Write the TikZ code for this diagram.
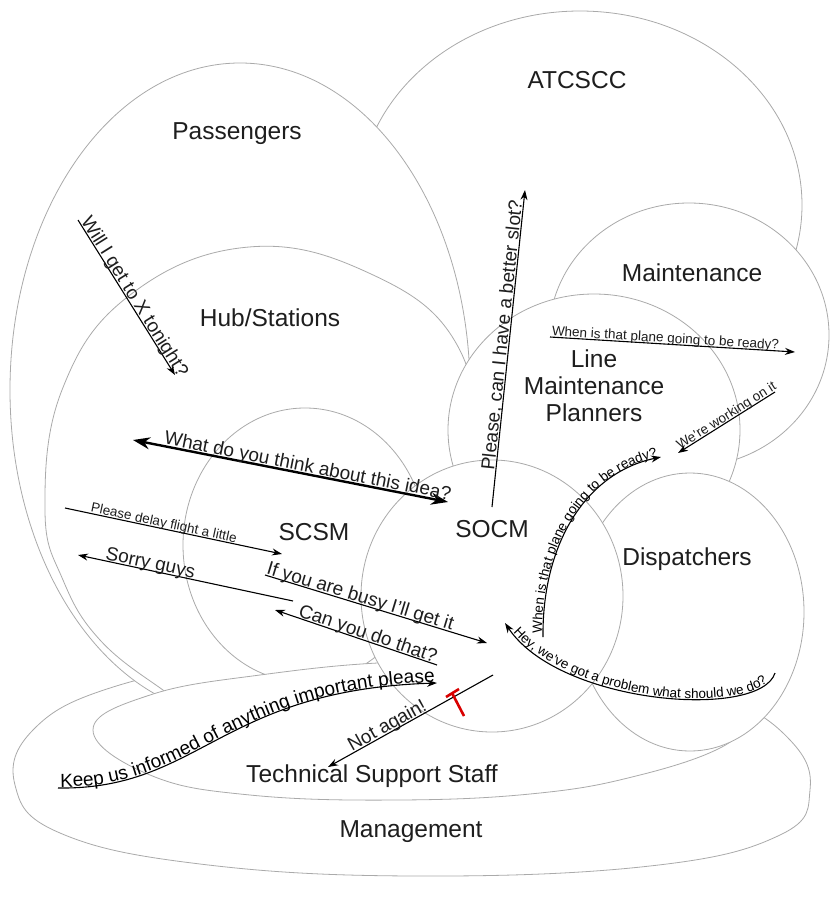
\documentclass[tikz,border=0pt]{standalone}
\usepackage{fontspec}
\setmainfont{Liberation Sans}
\usetikzlibrary{arrows.meta,decorations.text}
\definecolor{edgegray}{RGB}{170,170,170}
\definecolor{txt}{RGB}{30,30,30}
\tikzset{
  zone/.style={draw=edgegray, line width=0.8pt, fill=white},
  lab/.style={font=\fontsize{24.5}{27}\selectfont, text=txt, inner sep=0pt, align=center},
  msg/.style={draw=black, line width=1.1pt},
  msgbig/.style={font=\fontsize{19}{21}\selectfont},
  msgsmall/.style={font=\fontsize{13.5}{15}\selectfont},
  say/.style={sloped, above=1pt, inner sep=0pt, text depth=0pt, text=txt},
  arrowend/.style={-{Stealth[length=10pt,width=7pt]}},
  arrowstart/.style={{Stealth[length=10pt,width=7pt]}-},
  arrowboth/.style={{Stealth[length=17pt,width=12pt]}-{Stealth[length=17pt,width=12pt]}},
  bolt/.style={draw=red!85!black, line width=2.6pt},
}
\begin{document}
\begin{tikzpicture}[x=1pt,y=-1pt]
\useasboundingbox (0,0) rectangle (832,899);
% ---- zones (back to front) ----
\path[zone] (580,205) ellipse [x radius=222pt, y radius=194pt];
\path[zone] plot[smooth cycle, tension=0.7] coordinates {(110,688) (250,660) (420,648) (600,660) (720,695) (790,740) (810,790) (780,835) (650,866) (414,876) (200,864) (60,833) (15,785) (33,730)};
\path[zone] (240,390) ellipse [x radius=230pt, y radius=327pt];
\path[zone] plot[smooth cycle, tension=0.7] coordinates {(249,247) (371,274) (456,343) (472,450) (440,580) (330,700) (200,712) (163,690) (100,640) (63,580) (45,510) (62,390) (130,295)};
\path[zone] (305,545) ellipse [x radius=122pt, y radius=137pt];
\path[zone] (689,335) ellipse [x radius=140pt, y radius=132pt];
\path[zone] (594,430) ellipse [x radius=146pt, y radius=136pt];
\path[zone] plot[smooth cycle, tension=0.7] coordinates {(93,730) (150,695) (260,675) (400,662) (540,665) (650,688) (712,708) (736,726) (720,748) (640,775) (540,793) (400,800) (250,795) (150,775)};
\path[zone] (690,612) ellipse [x radius=114pt, y radius=139pt];
\path[zone] (492,596) ellipse [x radius=131pt, y radius=136pt];
% ---- labels ----
\node[lab] (atcscc) at (577,80) {ATCSCC};
\node[lab] (pass) at (237,134) {Passengers};
\node[lab] (maint) at (692,273) {Maintenance};
\node[lab] (hub) at (270,318) {Hub/Stations};
\node[lab] (lmp) at (594,386) {Line\\Maintenance\\Planners};
\node[lab] (scsm) at (314,532) {SCSM};
\node[lab] (socm) at (492,529) {SOCM};
\node[lab] (disp) at (687,559) {Dispatchers};
\node[lab] (tss) at (372,776) {Technical Support Staff};
\node[lab] (mgmt) at (411,832) {Management};
% ---- message end points ----
\coordinate (w1) at (78,220);   \coordinate (w2) at (175,375);
\coordinate (s1) at (492,507);  \coordinate (s2) at (525,190);
\coordinate (i1) at (133,440);  \coordinate (i2) at (448,502);
\coordinate (r1) at (550,337);  \coordinate (r2) at (795,352);
\coordinate (o1) at (678,453);  \coordinate (o2) at (775,392);
\coordinate (c1) at (543,637);  \coordinate (c2) at (661,457);
\coordinate (h1) at (505,623);  \coordinate (h2) at (775,673);
\coordinate (d1) at (65,508);   \coordinate (d2) at (282,554);
\coordinate (g1) at (78,555);   \coordinate (g2) at (293,601);
\coordinate (b1) at (265,575);  \coordinate (b2) at (487,643);
\coordinate (y1) at (275,610);  \coordinate (y2) at (437,665);
\coordinate (k1) at (58,788);   \coordinate (k2) at (437,683);
\coordinate (n1) at (328,767);  \coordinate (n2) at (493,675);
% ---- messages ----
\draw[msg, arrowend] (w1) -- node[say, msgbig, pos=0.52] {Will I get to X tonight?} (w2);
\draw[msg, arrowend] (s1) -- node[say, msgbig, pos=0.54] {Please, can I have a better slot?} (s2);
\draw[msg, line width=2.4pt, arrowboth] (i1) -- node[say, msgbig, pos=0.55] {What do you think about this idea?} (i2);
\draw[msg, arrowend] (r1) -- node[say, msgsmall, pos=0.47] {When is that plane going to be ready?} (r2);
\draw[msg, arrowstart] (o1) -- node[say, msgsmall, pos=0.53] {We're working on it} (o2);
\draw[msg, arrowend] (d1) -- node[say, msgsmall, pos=0.45] {Please delay flight a little} (d2);
\draw[msg, arrowstart] (g1) -- node[say, msgbig, pos=0.33] {Sorry guys} (g2);
\draw[msg, arrowend] (b1) -- node[say, msgbig, pos=0.42] {If you are busy I'll get it} (b2);
\draw[msg, arrowstart] (y1) -- node[say, msgbig, pos=0.56] {Can you do that?} (y2);
\draw[msg, arrowstart] (n1) -- node[say, msgbig, pos=0.38] {Not again!} (n2);
% curved messages
\draw[msg, arrowend] (c1) .. controls (542,545) and (585,473) .. (c2);
\path[decorate, decoration={text along path, text align=center, raise=1pt,
  text={|\fontsize{13.5}{15}\selectfont|When is that plane going to be ready?}}]
  (c1) .. controls (542,545) and (585,473) .. (c2);
\draw[msg, arrowstart] (h1) .. controls (560,705) and (760,720) .. (h2);
\path[decorate, decoration={text along path, text align=center, raise=1pt,
  text={|\fontsize{13.5}{15}\selectfont|Hey, we've got a problem what should we do?}}]
  (h1) .. controls (560,705) and (760,720) .. (h2);
\draw[msg, arrowend] (k1) .. controls (200,790) and (220,690) .. (k2);
\path[decorate, decoration={text along path, text align=center, raise=1pt,
  text={|\fontsize{19}{21}\selectfont|Keep us informed of anything important please}}]
  (k1) .. controls (200,790) and (220,690) .. (k2);
% broken-link mark
\draw[bolt] (446,697) -- (459,689);
\draw[bolt] (452,693) -- (464,716);
\end{tikzpicture}
\end{document}
